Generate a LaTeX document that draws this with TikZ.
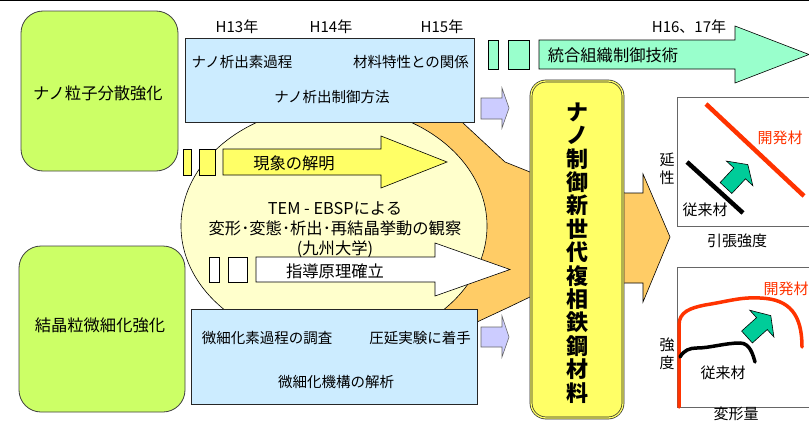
\documentclass[tikz,border=0pt]{standalone}
\usepackage{fontspec}
\setmainfont{Noto Sans CJK JP}
\usetikzlibrary{shapes.geometric}
\definecolor{limeC}{HTML}{CCFF66}
\definecolor{blueC}{HTML}{CCECFF}
\definecolor{aquaC}{HTML}{99FFCC}
\definecolor{lavC}{HTML}{CCCCFF}
\definecolor{yelC}{HTML}{FFFF66}
\definecolor{ellC}{HTML}{FFFFCC}
\definecolor{orC}{HTML}{FFCC66}
\definecolor{grnC}{HTML}{00CC99}
\definecolor{redC}{HTML}{FF3300}
\begin{document}
\begin{tikzpicture}[x=1pt,y=-1pt,
  greenbox/.style={draw=black!75, fill=limeC, rounded corners=22pt, line width=0.8pt, inner sep=0pt, outer sep=0pt},
  bluebox/.style={draw=black!85, fill=blueC, line width=0.8pt, inner sep=0pt, outer sep=0pt},
  shp/.style={draw=black, line width=0.6pt},
  txt/.style={inner sep=0pt, font=\fontsize{15}{18}\selectfont},
  btxt/.style={inner sep=0pt, font=\fontsize{16.3}{19}\selectfont},
  ytxt/.style={inner sep=0pt, font=\fontsize{14.5}{17}\selectfont},
  curve/.style={line width=3.5pt, line cap=round},
  gframe/.style={draw=black!60, line width=0.8pt}
]
\useasboundingbox (0,0) rectangle (809,423);
\fill[white] (0,0) rectangle (809,423);
\draw[line width=1.5pt] (0,0.7) -- (809,0.7);

% orange big arrow
\draw[shp, fill=orC] (380,110) -- (455,110) -- (463,123) -- (505,162) -- (530,172) -- (625,193) -- (643,193) -- (643,174) -- (670,237) -- (643,302) -- (643,283) -- (625,283) -- (530,297) -- (507,308) -- (477,322) -- (440,345) -- (380,345) -- cycle;

% ellipse
\node[ellipse, draw=black, line width=0.6pt, fill=ellC, minimum width=306, minimum height=240, inner sep=0pt] (el) at (334,226) {};

% blue boxes
\node[bluebox, minimum width=289, minimum height=84] (b1) at (329.5,80) {};
\node[bluebox, minimum width=286, minimum height=95] (b2) at (334,356.5) {};

% green boxes
\node[greenbox, minimum width=157, minimum height=160] (g1) at (99.5,91) {};
\node[greenbox, minimum width=166, minimum height=166] (g2) at (102,329) {};

% yellow arrow
\draw[shp, fill=yelC] (183,149) rectangle (191,175);
\draw[shp, fill=yelC] (199,149) rectangle (215,175);
\draw[shp, fill=yelC] (223,149) -- (381,149) -- (381,136) -- (447,162) -- (381,188) -- (381,175) -- (223,175) -- cycle;

% white arrow
\draw[shp, fill=white] (209,257) rectangle (219,282);
\draw[shp, fill=white] (228,257) rectangle (247,282);
\draw[shp, fill=white] (256,257) -- (435,257) -- (435,243) -- (510,269.5) -- (435,296) -- (435,282) -- (256,282) -- cycle;

% aqua arrow
\draw[shp, fill=aquaC] (488,40) rectangle (498,69);
\draw[shp, fill=aquaC] (508,40) rectangle (529,69);
\draw[shp, fill=aquaC] (539,40) -- (735,40) -- (735,26) -- (809,54.5) -- (735,83) -- (735,69) -- (539,69) -- cycle;

% purple arrows
\draw[draw=black!60, line width=0.6pt, fill=lavC] (481,98) -- (502,98) -- (502,88) -- (509,108) -- (502,128) -- (502,119) -- (481,119) -- cycle;
\draw[draw=black!60, line width=0.6pt, fill=lavC] (481,327) -- (502,327) -- (502,316) -- (509,337) -- (502,357) -- (502,347) -- (481,347) -- cycle;

% central yellow box
\node[draw=black!85, line width=0.7pt, double=yelC, double distance=1.3pt, fill=yelC, rounded corners=15pt, minimum width=92, minimum height=337, inner sep=0pt] (yb) at (577,249.5) {};
\node[inner sep=0pt, align=center, font=\fontsize{22}{23.4}\selectfont\bfseries] (ybt) at (577,253) {ナ\\ノ\\制\\御\\新\\世\\代\\複\\相\\鉄\\鋼\\材\\料};

% graph 1
\draw[gframe] (812,97) -- (677,97) -- (677,226) -- (812,226);
\draw[redC, line width=4.5pt] (706,104) -- (804,196);
\draw[black, line width=4.5pt] (687,162) -- (743,213);
\begin{scope}[shift={(726,188)}, rotate=47]
\draw[shp, fill=grnC] (0,-8) -- (20,-8) -- (20,-18) -- (32,0) -- (20,18) -- (20,8) -- (0,8) -- cycle;
\end{scope}
\node[txt, text=redC] (r1) at (780,138) {開発材};
\node[txt] (c1) at (705,210) {従来材};
\node[txt, align=center, font=\fontsize{15}{18}\selectfont] (e1) at (667,169) {延\\性};
\node[txt] (x1) at (737,241) {引張強度};

% graph 2
\draw[gframe] (812,267) -- (677,267) -- (677,407) -- (812,407);
\draw[redC, curve] (679,407) -- (679,325) .. controls (679,312) and (690,308) .. (705,305) .. controls (730,301) and (740,297) .. (760,298) .. controls (790,299) and (802,315) .. (802,347);
\draw[black, curve] (680,357) .. controls (684,350) and (690,348) .. (697,348) .. controls (710,348) and (725,343) .. (740,343) .. controls (750,343) and (753,355) .. (755,362);
\begin{scope}[shift={(747,337)}, rotate=42]
\draw[shp, fill=grnC] (0,-8) -- (20,-8) -- (20,-18) -- (32,0) -- (20,18) -- (20,8) -- (0,8) -- cycle;
\end{scope}
\node[txt, text=redC] (r2) at (786,289) {開発材};
\node[txt] (c2) at (723,373) {従来材};
\node[txt, align=center] (e2) at (667,354) {強\\度};
\node[txt] (x2) at (736,414) {変形量};

% texts
\node[txt] (y13) at (237,27) {H13年};
\node[txt] (y14) at (331,27) {H14年};
\node[txt] (y15) at (442,27) {H15年};
\node[txt] (y16) at (689,27) {H16、17年};

\node[btxt] (t1) at (98,93) {ナノ粒子分散強化};
\node[btxt] (t2) at (100,325) {結晶粒微細化強化};

\node[ytxt] (t3) at (242,62) {ナノ析出素過程};
\node[ytxt] (t4) at (411,62) {材料特性との関係};
\node[ytxt] (t5) at (332,97) {ナノ析出制御方法};

\node[btxt] (t6) at (613,55) {統合組織制御技術};
\node[btxt] (t7) at (294,163) {現象の解明};
\node[btxt] (t8) at (335,208) {TEM - EBSPによる};
\node[btxt] (t9) at (335,228) {変形･変態･析出･再結晶挙動の観察};
\node[btxt] (t10) at (335,249) {(九州大学)};
\node[btxt] (t11) at (335,271) {指導原理確立};

\node[ytxt] (t12) at (267,338) {微細化素過程の調査};
\node[ytxt] (t13) at (420,338) {圧延実験に着手};
\node[ytxt] (t14) at (336,382) {微細化機構の解析};
\end{tikzpicture}
\end{document}
